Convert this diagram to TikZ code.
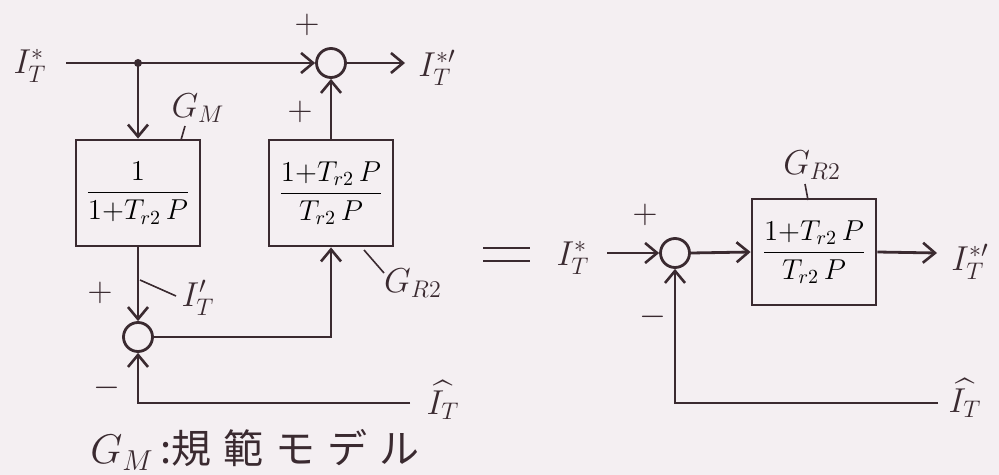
\documentclass[tikz,border=0pt]{standalone}
\usepackage{amsmath}
\usepackage{fontspec}
\newfontfamily\cjk{Noto Sans CJK JP}
\usetikzlibrary{arrows.meta}
\definecolor{bg}{HTML}{F4EFF2}
\definecolor{ink}{HTML}{3A2A30}
\newcommand{\tfn}{1{+}T_{r2}\,P}
\begin{document}
\begin{tikzpicture}[x=0.5pt,y=-0.5pt,
  ink line/.style={draw=ink,line width=1.4pt},
  arr/.style={ink line,-{Straight Barb[length=6pt,width=10pt,line width=1.3pt]}},
  sumc/.style={circle,draw=ink,line width=1.4pt,minimum size=14.5pt,inner sep=0pt},
  blk/.style={rectangle,draw=ink,line width=1.4pt,minimum width=62pt,minimum height=53pt,inner sep=0pt,font=\fontsize{14.5}{17}\selectfont},
  lbl/.style={text=ink,inner sep=0pt,font=\fontsize{17}{19}\selectfont},
  sgn/.style={text=ink,inner sep=0pt,font=\fontsize{18}{20}\selectfont},
  lead/.style={draw=ink,line width=0.8pt}]
\fill[bg] (0,0) rectangle (999,475);
\useasboundingbox (0,0) rectangle (999,475);
% ---------- left diagram ----------
\coordinate (in1) at (66,63);
\coordinate (j) at (138,63);
\coordinate (out1) at (405,63);
\coordinate (fb1) at (410,403);
\node[sumc] (s1) at (331,63) {};
\node[blk] (gm) at (138,193) {$\dfrac{1}{\tfn}$};
\node[blk] (gr) at (331,193) {$\dfrac{\tfn}{T_{r2}\,P}$};
\node[sumc] (s2) at (138,337) {};
\draw[ink line] (in1) -- (j);
\draw[arr] (j) -- (s1.west);
\fill[ink] (j) circle (4);
\draw[arr] (s1.east) -- (out1);
\draw[arr] (j) -- (gm.north);
\draw[arr] (gr.north) -- (s1.south);
\draw[arr] (gm.south) -- (s2.north);
\draw[arr] (s2.east) -| (gr.south);
\draw[arr] (fb1) -| (s2.south);
\node[lbl] (lin) at (30,66) {$I_T^{*}$};
\node[lbl] (lout) at (437,68) {$I_T^{*\prime}$};
\node[sgn] (p1) at (307,25) {$+$};
\node[sgn] (p2) at (300,112) {$+$};
\node[sgn] (p3) at (100,293) {$+$};
\node[sgn] (m1) at (107,388) {$-$};
\node[lbl] (lgm) at (198,108) {$G_M$};
\draw[lead] (181,140) -- (185,126);
\node[lbl] (lit) at (198,298) {$I_T'$};
\draw[lead] (140,280) -- (176,296);
\node[lbl] (lgr) at (413,283) {$G_{R2}$};
\draw[lead] (364,250) -- (384,273);
\node[lbl] (lhat) at (443,400) {$\widehat{I_T}$};
\node[text=ink,inner sep=0pt,font=\fontsize{20}{24}\selectfont] (cap) at (255,450)
  {$G_M$\,{\cjk :規\hspace{6pt}範\hspace{6pt}モ\hspace{6pt}デ\hspace{6pt}ル}};
% ---------- equals ----------
\draw[ink line] (483,248) -- (530,248);
\draw[ink line] (483,261) -- (530,261);
% ---------- right diagram ----------
\coordinate (in2) at (607,253);
\coordinate (out2) at (937,253);
\coordinate (fb2) at (938,403);
\node[sumc] (s3) at (675,253) {};
\node[blk] (rb) at (814,252) {$\dfrac{\tfn}{T_{r2}\,P}$};
\draw[arr] (in2) -- (s3.west);
\draw[arr] (s3.east) -- (rb.west);
\draw[arr] (rb.east) -- (out2);
\draw[arr] (fb2) -| (s3.south);
\node[lbl] (rin) at (573,258) {$I_T^{*}$};
\node[lbl] (rout) at (970,262) {$I_T^{*\prime}$};
\node[sgn] (p4) at (645,215) {$+$};
\node[sgn] (m2) at (653,317) {$-$};
\node[lbl] (rgr) at (812,165) {$G_{R2}$};
\draw[lead] (808,200) -- (805,184);
\node[lbl] (rhat) at (965,398) {$\widehat{I_T}$};
\end{tikzpicture}
\end{document}
